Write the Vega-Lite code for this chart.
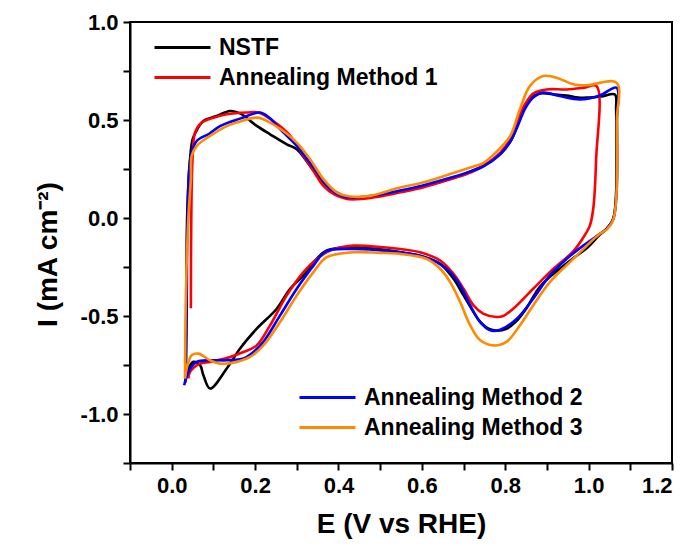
{
"$schema": "https://vega.github.io/schema/vega-lite/v6.json",
"width": 542, "height": 441,
"autosize": "none",
"padding": {"left": 130, "top": 22, "right": 18, "bottom": 83},
"background": "white",
"config": {
  "view": {"stroke": "black", "strokeWidth": 2},
  "font": "Liberation Sans",
  "axis": {"grid": false, "domainColor": "black", "domainWidth": 2, "tickColor": "black", "tickWidth": 2, "tickSize": 7, "labelFont": "Liberation Sans", "labelFontWeight": "bold", "labelFontSize": 22, "labelColor": "black", "titleFont": "Liberation Sans", "titleFontWeight": "bold", "titleFontSize": 28, "titleColor": "black", "labelPadding": 5},
  "legend": {"labelFont": "Liberation Sans", "labelFontWeight": "bold", "labelFontSize": 23, "labelColor": "black", "symbolType": "M-2,0H2", "symbolSize": 784, "symbolStrokeWidth": 3, "labelOffset": 21, "rowPadding": 2, "padding": 0, "title": null, "labelLimit": 400}
},
"datasets": {
 "a": [
  {"s":"NSTF","i":0,"E":0.034,"I":-0.80},{"s":"NSTF","i":1,"E":0.036,"I":-0.40},{"s":"NSTF","i":2,"E":0.037,"I":0.00},{"s":"NSTF","i":3,"E":0.044,"I":0.30},{"s":"NSTF","i":4,"E":0.050,"I":0.40},{"s":"NSTF","i":5,"E":0.058,"I":0.44},{"s":"NSTF","i":6,"E":0.076,"I":0.495},{"s":"NSTF","i":7,"E":0.108,"I":0.520},{"s":"NSTF","i":8,"E":0.140,"I":0.546},{"s":"NSTF","i":9,"E":0.164,"I":0.534},{"s":"NSTF","i":10,"E":0.204,"I":0.470},{"s":"NSTF","i":11,"E":0.236,"I":0.427},{"s":"NSTF","i":12,"E":0.276,"I":0.376},{"s":"NSTF","i":13,"E":0.300,"I":0.351},{"s":"NSTF","i":14,"E":0.332,"I":0.266},{"s":"NSTF","i":15,"E":0.372,"I":0.164},{"s":"NSTF","i":16,"E":0.412,"I":0.113},{"s":"NSTF","i":17,"E":0.44,"I":0.10},{"s":"NSTF","i":18,"E":0.50,"I":0.115},{"s":"NSTF","i":19,"E":0.55,"I":0.135},{"s":"NSTF","i":20,"E":0.60,"I":0.16},{"s":"NSTF","i":21,"E":0.67,"I":0.20},{"s":"NSTF","i":22,"E":0.72,"I":0.24},{"s":"NSTF","i":23,"E":0.75,"I":0.27},{"s":"NSTF","i":24,"E":0.79,"I":0.33},{"s":"NSTF","i":25,"E":0.815,"I":0.40},{"s":"NSTF","i":26,"E":0.83,"I":0.48},{"s":"NSTF","i":27,"E":0.843,"I":0.56},{"s":"NSTF","i":28,"E":0.86,"I":0.61},{"s":"NSTF","i":29,"E":0.883,"I":0.635},{"s":"NSTF","i":30,"E":0.92,"I":0.63},{"s":"NSTF","i":31,"E":0.947,"I":0.625},{"s":"NSTF","i":32,"E":0.975,"I":0.615},{"s":"NSTF","i":33,"E":0.995,"I":0.614},{"s":"NSTF","i":34,"E":1.03,"I":0.62},{"s":"NSTF","i":35,"E":1.063,"I":0.63},{"s":"NSTF","i":36,"E":1.066,"I":0.55},{"s":"NSTF","i":37,"E":1.067,"I":0.30},{"s":"NSTF","i":38,"E":1.066,"I":0.13},{"s":"NSTF","i":39,"E":1.059,"I":-0.005},{"s":"NSTF","i":40,"E":1.043,"I":-0.056},{"s":"NSTF","i":41,"E":1.027,"I":-0.085},{"s":"NSTF","i":42,"E":0.995,"I":-0.155},{"s":"NSTF","i":43,"E":0.963,"I":-0.205},{"s":"NSTF","i":44,"E":0.93,"I":-0.26},{"s":"NSTF","i":45,"E":0.907,"I":-0.30},{"s":"NSTF","i":46,"E":0.88,"I":-0.36},{"s":"NSTF","i":47,"E":0.851,"I":-0.46},{"s":"NSTF","i":48,"E":0.825,"I":-0.53},{"s":"NSTF","i":49,"E":0.803,"I":-0.565},{"s":"NSTF","i":50,"E":0.78,"I":-0.575},{"s":"NSTF","i":51,"E":0.76,"I":-0.565},{"s":"NSTF","i":52,"E":0.74,"I":-0.53},{"s":"NSTF","i":53,"E":0.724,"I":-0.48},{"s":"NSTF","i":54,"E":0.700,"I":-0.395},{"s":"NSTF","i":55,"E":0.676,"I":-0.310},{"s":"NSTF","i":56,"E":0.644,"I":-0.234},{"s":"NSTF","i":57,"E":0.60,"I":-0.195},{"s":"NSTF","i":58,"E":0.548,"I":-0.175},{"s":"NSTF","i":59,"E":0.50,"I":-0.16},{"s":"NSTF","i":60,"E":0.436,"I":-0.149},{"s":"NSTF","i":61,"E":0.372,"I":-0.166},{"s":"NSTF","i":62,"E":0.34,"I":-0.226},{"s":"NSTF","i":63,"E":0.316,"I":-0.293},{"s":"NSTF","i":64,"E":0.284,"I":-0.361},{"s":"NSTF","i":65,"E":0.252,"I":-0.463},{"s":"NSTF","i":66,"E":0.204,"I":-0.565},{"s":"NSTF","i":67,"E":0.164,"I":-0.666},{"s":"NSTF","i":68,"E":0.132,"I":-0.768},{"s":"NSTF","i":69,"E":0.092,"I":-0.870},{"s":"NSTF","i":70,"E":0.076,"I":-0.802},{"s":"NSTF","i":71,"E":0.068,"I":-0.751},{"s":"NSTF","i":72,"E":0.052,"I":-0.734},{"s":"NSTF","i":73,"E":0.040,"I":-0.768},{"s":"NSTF","i":74,"E":0.032,"I":-0.836},
  {"s":"Annealing Method 1","i":0,"E":0.046,"I":-0.46},{"s":"Annealing Method 1","i":1,"E":0.047,"I":0.00},{"s":"Annealing Method 1","i":2,"E":0.050,"I":0.30},{"s":"Annealing Method 1","i":3,"E":0.056,"I":0.436},{"s":"Annealing Method 1","i":4,"E":0.072,"I":0.487},{"s":"Annealing Method 1","i":5,"E":0.100,"I":0.512},{"s":"Annealing Method 1","i":6,"E":0.132,"I":0.529},{"s":"Annealing Method 1","i":7,"E":0.180,"I":0.538},{"s":"Annealing Method 1","i":8,"E":0.208,"I":0.538},{"s":"Annealing Method 1","i":9,"E":0.24,"I":0.50},{"s":"Annealing Method 1","i":10,"E":0.28,"I":0.43},{"s":"Annealing Method 1","i":11,"E":0.316,"I":0.317},{"s":"Annealing Method 1","i":12,"E":0.34,"I":0.24},{"s":"Annealing Method 1","i":13,"E":0.364,"I":0.164},{"s":"Annealing Method 1","i":14,"E":0.390,"I":0.12},{"s":"Annealing Method 1","i":15,"E":0.420,"I":0.097},{"s":"Annealing Method 1","i":16,"E":0.46,"I":0.098},{"s":"Annealing Method 1","i":17,"E":0.50,"I":0.11},{"s":"Annealing Method 1","i":18,"E":0.548,"I":0.131},{"s":"Annealing Method 1","i":19,"E":0.60,"I":0.155},{"s":"Annealing Method 1","i":20,"E":0.668,"I":0.198},{"s":"Annealing Method 1","i":21,"E":0.72,"I":0.235},{"s":"Annealing Method 1","i":22,"E":0.747,"I":0.266},{"s":"Annealing Method 1","i":23,"E":0.788,"I":0.334},{"s":"Annealing Method 1","i":24,"E":0.812,"I":0.402},{"s":"Annealing Method 1","i":25,"E":0.828,"I":0.487},{"s":"Annealing Method 1","i":26,"E":0.845,"I":0.57},{"s":"Annealing Method 1","i":27,"E":0.867,"I":0.635},{"s":"Annealing Method 1","i":28,"E":0.899,"I":0.656},{"s":"Annealing Method 1","i":29,"E":0.947,"I":0.656},{"s":"Annealing Method 1","i":30,"E":0.99,"I":0.665},{"s":"Annealing Method 1","i":31,"E":1.019,"I":0.673},{"s":"Annealing Method 1","i":32,"E":1.018,"I":0.30},{"s":"Annealing Method 1","i":33,"E":1.011,"I":0.046},{"s":"Annealing Method 1","i":34,"E":1.003,"I":-0.039},{"s":"Annealing Method 1","i":35,"E":0.987,"I":-0.10},{"s":"Annealing Method 1","i":36,"E":0.963,"I":-0.17},{"s":"Annealing Method 1","i":37,"E":0.907,"I":-0.276},{"s":"Annealing Method 1","i":38,"E":0.867,"I":-0.361},{"s":"Annealing Method 1","i":39,"E":0.819,"I":-0.463},{"s":"Annealing Method 1","i":40,"E":0.795,"I":-0.50},{"s":"Annealing Method 1","i":41,"E":0.779,"I":-0.505},{"s":"Annealing Method 1","i":42,"E":0.747,"I":-0.488},{"s":"Annealing Method 1","i":43,"E":0.724,"I":-0.446},{"s":"Annealing Method 1","i":44,"E":0.700,"I":-0.361},{"s":"Annealing Method 1","i":45,"E":0.676,"I":-0.285},{"s":"Annealing Method 1","i":46,"E":0.644,"I":-0.217},{"s":"Annealing Method 1","i":47,"E":0.596,"I":-0.175},{"s":"Annealing Method 1","i":48,"E":0.548,"I":-0.158},{"s":"Annealing Method 1","i":49,"E":0.50,"I":-0.148},{"s":"Annealing Method 1","i":50,"E":0.436,"I":-0.141},{"s":"Annealing Method 1","i":51,"E":0.38,"I":-0.166},{"s":"Annealing Method 1","i":52,"E":0.348,"I":-0.209},{"s":"Annealing Method 1","i":53,"E":0.316,"I":-0.276},{"s":"Annealing Method 1","i":54,"E":0.276,"I":-0.395},{"s":"Annealing Method 1","i":55,"E":0.236,"I":-0.548},{"s":"Annealing Method 1","i":56,"E":0.204,"I":-0.650},{"s":"Annealing Method 1","i":57,"E":0.172,"I":-0.684},{"s":"Annealing Method 1","i":58,"E":0.140,"I":-0.709},{"s":"Annealing Method 1","i":59,"E":0.092,"I":-0.734},{"s":"Annealing Method 1","i":60,"E":0.068,"I":-0.743},{"s":"Annealing Method 1","i":61,"E":0.044,"I":-0.785},{"s":"Annealing Method 1","i":62,"E":0.040,"I":-0.819}
 ],
 "b": [
  {"s":"Annealing Method 2","i":0,"E":0.033,"I":-0.84},{"s":"Annealing Method 2","i":1,"E":0.036,"I":-0.40},{"s":"Annealing Method 2","i":2,"E":0.038,"I":0.00},{"s":"Annealing Method 2","i":3,"E":0.046,"I":0.317},{"s":"Annealing Method 2","i":4,"E":0.060,"I":0.393},{"s":"Annealing Method 2","i":5,"E":0.090,"I":0.43},{"s":"Annealing Method 2","i":6,"E":0.116,"I":0.469},{"s":"Annealing Method 2","i":7,"E":0.164,"I":0.507},{"s":"Annealing Method 2","i":8,"E":0.212,"I":0.538},{"s":"Annealing Method 2","i":9,"E":0.235,"I":0.51},{"s":"Annealing Method 2","i":10,"E":0.26,"I":0.453},{"s":"Annealing Method 2","i":11,"E":0.30,"I":0.368},{"s":"Annealing Method 2","i":12,"E":0.34,"I":0.258},{"s":"Annealing Method 2","i":13,"E":0.38,"I":0.148},{"s":"Annealing Method 2","i":14,"E":0.412,"I":0.110},{"s":"Annealing Method 2","i":15,"E":0.44,"I":0.105},{"s":"Annealing Method 2","i":16,"E":0.50,"I":0.12},{"s":"Annealing Method 2","i":17,"E":0.548,"I":0.14},{"s":"Annealing Method 2","i":18,"E":0.60,"I":0.165},{"s":"Annealing Method 2","i":19,"E":0.668,"I":0.205},{"s":"Annealing Method 2","i":20,"E":0.72,"I":0.24},{"s":"Annealing Method 2","i":21,"E":0.747,"I":0.262},{"s":"Annealing Method 2","i":22,"E":0.788,"I":0.325},{"s":"Annealing Method 2","i":23,"E":0.812,"I":0.39},{"s":"Annealing Method 2","i":24,"E":0.83,"I":0.47},{"s":"Annealing Method 2","i":25,"E":0.848,"I":0.56},{"s":"Annealing Method 2","i":26,"E":0.867,"I":0.615},{"s":"Annealing Method 2","i":27,"E":0.891,"I":0.64},{"s":"Annealing Method 2","i":28,"E":0.931,"I":0.622},{"s":"Annealing Method 2","i":29,"E":0.979,"I":0.605},{"s":"Annealing Method 2","i":30,"E":1.027,"I":0.625},{"s":"Annealing Method 2","i":31,"E":1.067,"I":0.665},{"s":"Annealing Method 2","i":32,"E":1.068,"I":0.50},{"s":"Annealing Method 2","i":33,"E":1.067,"I":0.131},{"s":"Annealing Method 2","i":34,"E":1.059,"I":-0.005},{"s":"Annealing Method 2","i":35,"E":1.043,"I":-0.056},{"s":"Annealing Method 2","i":36,"E":1.027,"I":-0.081},{"s":"Annealing Method 2","i":37,"E":0.987,"I":-0.141},{"s":"Annealing Method 2","i":38,"E":0.947,"I":-0.209},{"s":"Annealing Method 2","i":39,"E":0.907,"I":-0.293},{"s":"Annealing Method 2","i":40,"E":0.867,"I":-0.412},{"s":"Annealing Method 2","i":41,"E":0.828,"I":-0.514},{"s":"Annealing Method 2","i":42,"E":0.788,"I":-0.570},{"s":"Annealing Method 2","i":43,"E":0.764,"I":-0.573},{"s":"Annealing Method 2","i":44,"E":0.740,"I":-0.531},{"s":"Annealing Method 2","i":45,"E":0.716,"I":-0.446},{"s":"Annealing Method 2","i":46,"E":0.692,"I":-0.344},{"s":"Annealing Method 2","i":47,"E":0.668,"I":-0.276},{"s":"Annealing Method 2","i":48,"E":0.636,"I":-0.225},{"s":"Annealing Method 2","i":49,"E":0.596,"I":-0.192},{"s":"Annealing Method 2","i":50,"E":0.548,"I":-0.175},{"s":"Annealing Method 2","i":51,"E":0.50,"I":-0.165},{"s":"Annealing Method 2","i":52,"E":0.436,"I":-0.158},{"s":"Annealing Method 2","i":53,"E":0.37,"I":-0.17},{"s":"Annealing Method 2","i":54,"E":0.34,"I":-0.243},{"s":"Annealing Method 2","i":55,"E":0.30,"I":-0.361},{"s":"Annealing Method 2","i":56,"E":0.26,"I":-0.497},{"s":"Annealing Method 2","i":57,"E":0.22,"I":-0.632},{"s":"Annealing Method 2","i":58,"E":0.196,"I":-0.684},{"s":"Annealing Method 2","i":59,"E":0.172,"I":-0.717},{"s":"Annealing Method 2","i":60,"E":0.132,"I":-0.726},{"s":"Annealing Method 2","i":61,"E":0.092,"I":-0.726},{"s":"Annealing Method 2","i":62,"E":0.060,"I":-0.734},{"s":"Annealing Method 2","i":63,"E":0.044,"I":-0.768},{"s":"Annealing Method 2","i":64,"E":0.032,"I":-0.836},{"s":"Annealing Method 2","i":65,"E":0.030,"I":-0.853},
  {"s":"Annealing Method 3","i":0,"E":0.032,"I":-0.82},{"s":"Annealing Method 3","i":1,"E":0.034,"I":-0.40},{"s":"Annealing Method 3","i":2,"E":0.040,"I":0.00},{"s":"Annealing Method 3","i":3,"E":0.046,"I":0.20},{"s":"Annealing Method 3","i":4,"E":0.048,"I":0.317},{"s":"Annealing Method 3","i":5,"E":0.060,"I":0.368},{"s":"Annealing Method 3","i":6,"E":0.092,"I":0.419},{"s":"Annealing Method 3","i":7,"E":0.132,"I":0.469},{"s":"Annealing Method 3","i":8,"E":0.164,"I":0.492},{"s":"Annealing Method 3","i":9,"E":0.204,"I":0.512},{"s":"Annealing Method 3","i":10,"E":0.236,"I":0.487},{"s":"Annealing Method 3","i":11,"E":0.270,"I":0.44},{"s":"Annealing Method 3","i":12,"E":0.300,"I":0.385},{"s":"Annealing Method 3","i":13,"E":0.332,"I":0.300},{"s":"Annealing Method 3","i":14,"E":0.364,"I":0.198},{"s":"Annealing Method 3","i":15,"E":0.396,"I":0.131},{"s":"Annealing Method 3","i":16,"E":0.428,"I":0.110},{"s":"Annealing Method 3","i":17,"E":0.476,"I":0.113},{"s":"Annealing Method 3","i":18,"E":0.548,"I":0.156},{"s":"Annealing Method 3","i":19,"E":0.60,"I":0.18},{"s":"Annealing Method 3","i":20,"E":0.668,"I":0.224},{"s":"Annealing Method 3","i":21,"E":0.72,"I":0.26},{"s":"Annealing Method 3","i":22,"E":0.747,"I":0.28},{"s":"Annealing Method 3","i":23,"E":0.78,"I":0.34},{"s":"Annealing Method 3","i":24,"E":0.812,"I":0.419},{"s":"Annealing Method 3","i":25,"E":0.835,"I":0.554},{"s":"Annealing Method 3","i":26,"E":0.859,"I":0.673},{"s":"Annealing Method 3","i":27,"E":0.891,"I":0.724},{"s":"Annealing Method 3","i":28,"E":0.923,"I":0.716},{"s":"Annealing Method 3","i":29,"E":0.963,"I":0.682},{"s":"Annealing Method 3","i":30,"E":0.995,"I":0.677},{"s":"Annealing Method 3","i":31,"E":1.067,"I":0.690},{"s":"Annealing Method 3","i":32,"E":1.068,"I":0.50},{"s":"Annealing Method 3","i":33,"E":1.067,"I":0.13},{"s":"Annealing Method 3","i":34,"E":1.059,"I":-0.01},{"s":"Annealing Method 3","i":35,"E":1.043,"I":-0.06},{"s":"Annealing Method 3","i":36,"E":1.027,"I":-0.08},{"s":"Annealing Method 3","i":37,"E":0.963,"I":-0.209},{"s":"Annealing Method 3","i":38,"E":0.907,"I":-0.327},{"s":"Annealing Method 3","i":39,"E":0.867,"I":-0.446},{"s":"Annealing Method 3","i":40,"E":0.835,"I":-0.548},{"s":"Annealing Method 3","i":41,"E":0.803,"I":-0.632},{"s":"Annealing Method 3","i":42,"E":0.772,"I":-0.650},{"s":"Annealing Method 3","i":43,"E":0.740,"I":-0.624},{"s":"Annealing Method 3","i":44,"E":0.716,"I":-0.548},{"s":"Annealing Method 3","i":45,"E":0.692,"I":-0.429},{"s":"Annealing Method 3","i":46,"E":0.668,"I":-0.327},{"s":"Annealing Method 3","i":47,"E":0.644,"I":-0.259},{"s":"Annealing Method 3","i":48,"E":0.612,"I":-0.209},{"s":"Annealing Method 3","i":49,"E":0.548,"I":-0.183},{"s":"Annealing Method 3","i":50,"E":0.50,"I":-0.178},{"s":"Annealing Method 3","i":51,"E":0.436,"I":-0.175},{"s":"Annealing Method 3","i":52,"E":0.372,"I":-0.200},{"s":"Annealing Method 3","i":53,"E":0.34,"I":-0.276},{"s":"Annealing Method 3","i":54,"E":0.30,"I":-0.395},{"s":"Annealing Method 3","i":55,"E":0.26,"I":-0.531},{"s":"Annealing Method 3","i":56,"E":0.22,"I":-0.650},{"s":"Annealing Method 3","i":57,"E":0.188,"I":-0.709},{"s":"Annealing Method 3","i":58,"E":0.156,"I":-0.734},{"s":"Annealing Method 3","i":59,"E":0.116,"I":-0.743},{"s":"Annealing Method 3","i":60,"E":0.092,"I":-0.726},{"s":"Annealing Method 3","i":61,"E":0.064,"I":-0.692},{"s":"Annealing Method 3","i":62,"E":0.048,"I":-0.700},{"s":"Annealing Method 3","i":63,"E":0.036,"I":-0.768},{"s":"Annealing Method 3","i":64,"E":0.032,"I":-0.819}
 ]
},
"encoding": {
  "x": {"field": "E", "type": "quantitative", "scale": {"domain": [-0.1, 1.2], "nice": false, "zero": false},
    "axis": {"title": "E (V vs RHE)", "values": [-0.1,0,0.1,0.2,0.3,0.4,0.5,0.6,0.7,0.8,0.9,1.0,1.1,1.2], "labelExpr": "abs(round(datum.value*10)) % 2 == 0 ? ((datum.value < -0.001 ? '-' : '') + format(abs(datum.value), '.1f')) : ''", "titlePadding": 14}},
  "y": {"field": "I", "type": "quantitative", "scale": {"domain": [-1.25, 1.0], "nice": false, "zero": false},
    "axis": {"title": "I (mA cm⁻²)", "values": [-1.25,-1,-0.75,-0.5,-0.25,0,0.25,0.5,0.75,1.0], "labelExpr": "abs(round(datum.value*4)) % 2 == 0 ? ((datum.value < -0.001 ? '-' : '') + format(abs(datum.value), '.1f')) : ''", "titlePadding": 18, "titleY": 232}},
  "order": {"field": "i", "type": "quantitative"}
},
"layer": [
  {"data": {"name": "a"}, "mark": {"type": "line", "strokeWidth": 2.6, "interpolate": "catmull-rom"},
   "encoding": {"color": {"field": "s", "type": "nominal", "scale": {"domain": ["NSTF", "Annealing Method 1"], "range": ["#000000", "#ff0000"]},
     "legend": {"orient": "none", "legendX": 37, "legendY": 10}}}},
  {"data": {"name": "b"}, "mark": {"type": "line", "strokeWidth": 2.6, "interpolate": "catmull-rom"},
   "encoding": {"color": {"field": "s", "type": "nominal", "scale": {"domain": ["Annealing Method 2", "Annealing Method 3"], "range": ["#0000ff", "#ff8a00"]},
     "legend": {"orient": "none", "legendX": 182, "legendY": 360}}}}
],
"resolve": {"scale": {"color": "independent"}, "legend": {"color": "independent"}}
}
